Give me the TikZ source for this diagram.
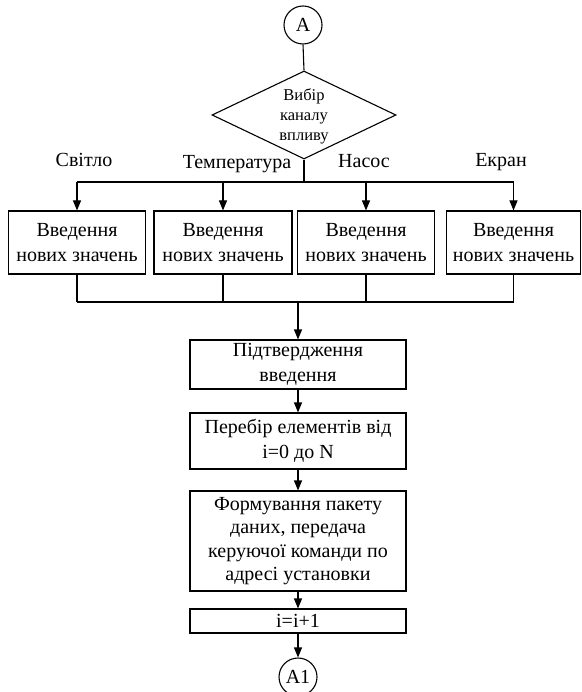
\documentclass[tikz,border=0pt]{standalone}
\usepackage{fontspec}
\setmainfont{Liberation Serif}
\usetikzlibrary{shapes.geometric,arrows.meta}
\begin{document}
\begin{tikzpicture}[x=1pt,y=-1pt,
  box/.style={draw, line width=1.1pt, inner sep=0pt, align=center, font=\fontsize{20}{24.5}\selectfont},
  conn/.style={line width=1.1pt},
  arr/.style={line width=1.1pt, -{Triangle[length=10pt,width=8pt]}},
  lbl/.style={font=\fontsize{20}{24}\selectfont, anchor=base, inner sep=0pt},
  conncirc/.style={draw, circle, line width=1.1pt, minimum size=38pt, inner sep=0pt, font=\fontsize{20}{22}\selectfont}]
\useasboundingbox (0,0) rectangle (581,692);
\node[conncirc] (A) at (303,25) {A};
\node[draw, diamond, line width=1.1pt, minimum width=184pt, minimum height=88pt, inner sep=0pt] (dia) at (304,115) {};
\node[font=\fontsize{16.5}{20}\selectfont, align=center, inner sep=0pt] (diatext) at (304,116) {Вибір\\каналу\\впливу};
\draw[conn] (A.south) -- (dia.north);

\node[lbl] (l1) at (84,167) {Світло};
\node[lbl] (l2) at (237,169) {Температура};
\node[lbl] (l3) at (364,168) {Насос};
\node[lbl] (l4) at (501,167) {Екран};

\node[box, minimum width=137pt, minimum height=63pt] (b1) at (77,242.5) {Введення\\нових значень};
\node[box, minimum width=138pt, minimum height=63pt] (b2) at (223,242.5) {Введення\\нових значень};
\node[box, minimum width=137pt, minimum height=63pt] (b3) at (366,242.5) {Введення\\нових значень};
\node[box, minimum width=134pt, minimum height=63pt] (b4) at (513.5,242.5) {Введення\\нових значень};

\coordinate (br) at (304,182);
\draw[conn] (dia.south) -- (br);
\draw[conn] (b1.north |- br) -- (b4.north |- br);
\foreach \b in {b1,b2,b3,b4} \draw[arr] (\b.north |- br) -- (\b.north);

\coordinate (m) at (298,302);
\foreach \b in {b1,b2,b3,b4} \draw[conn] (\b.south) -- (\b.south |- m);
\draw[conn] (b1.south |- m) -- (b4.south |- m);

\node[box, minimum width=216pt, minimum height=49pt] (p1) at (298,364.5) {Підтвердження\\введення};
\node[box, minimum width=216pt, minimum height=56pt] (p2) at (298,441) {Перебір елементів від\\i=0 до N};
\node[box, minimum width=216pt, minimum height=100pt, font=\fontsize{20}{23.5}\selectfont] (p3) at (298,541) {Формування пакету\\даних, передача\\керуючої команди по\\адресі установки};
\node[box, minimum width=216pt, minimum height=24pt] (p4) at (298,621) {i=i+1};
\node[conncirc] (A1) at (298,677) {A1};

\draw[arr] (m) -- (p1.north);
\draw[arr] (p1.south) -- (p2.north);
\draw[arr] (p2.south) -- (p3.north);
\draw[arr] (p3.south) -- (p4.north);
\draw[arr] (p4.south) -- (A1.north);
\end{tikzpicture}
\end{document}
